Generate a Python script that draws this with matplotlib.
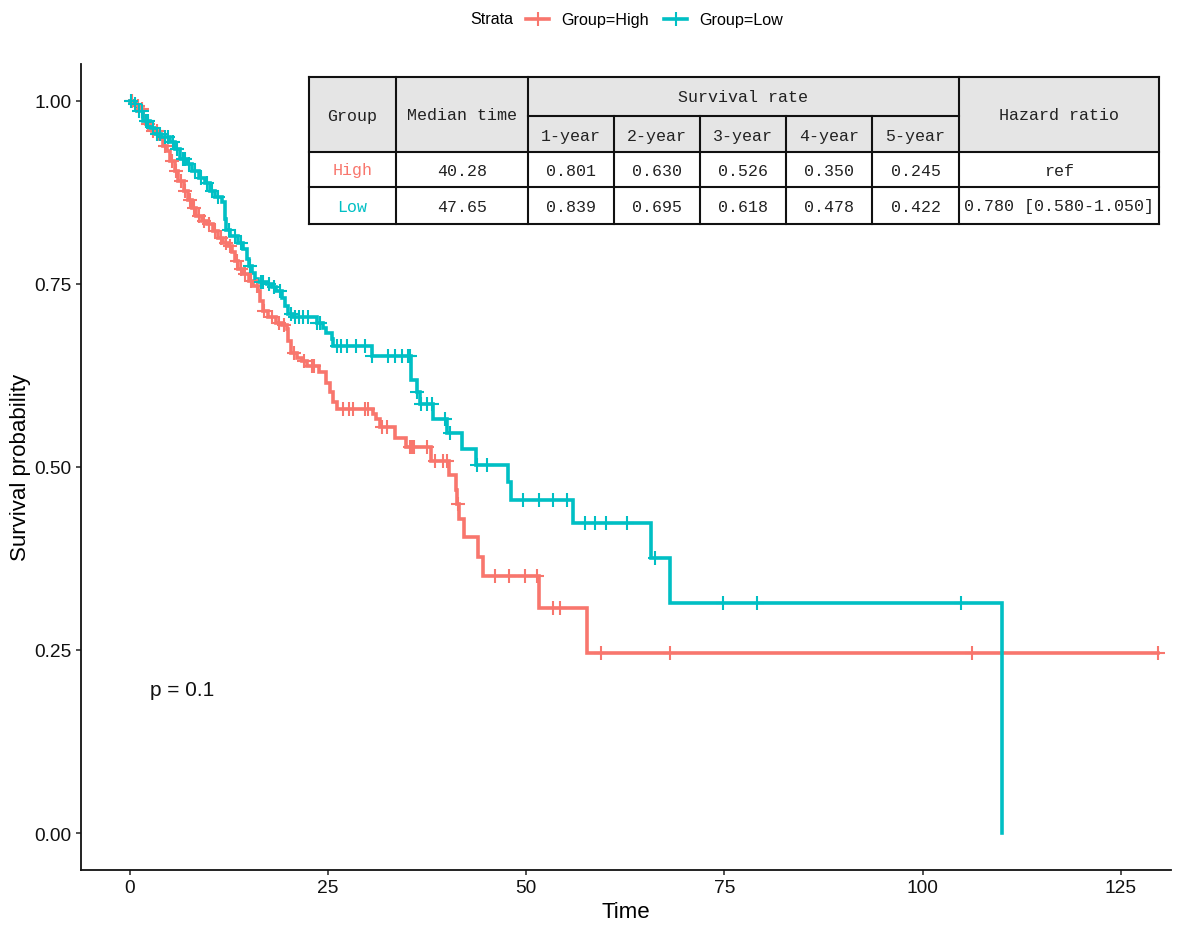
import numpy as np
import matplotlib
matplotlib.use('Agg')
import matplotlib.pyplot as plt
from matplotlib.lines import Line2D
from matplotlib.patches import Rectangle

plt.rcParams['font.family'] = ['Liberation Sans', 'DejaVu Sans']

# ---------------- data ----------------
group_names = ['Group=High', 'Group=Low']
group_colors = ['#F8766D', '#00BFC4']

high_time = [0, 0.5, 0.9, 1.3, 1.7, 2.1, 2.8, 3.6, 4.2, 4.7, 5.1, 5.7, 6.1, 6.8, 7.4, 7.8,
             8.4, 9.1, 9.7, 10.5, 11.2, 11.8, 12.4, 12.9, 13.3, 13.7, 14.3, 15.0, 15.6, 16.2,
             16.4, 16.8, 17.5, 18.5, 19.2, 19.8, 20.0, 20.4, 21.1, 21.7, 22.3, 23.9, 24.8,
             25.3, 25.7, 26.1, 30.7, 31.1, 31.6, 33.5, 34.9, 38.0, 40.3, 41.1, 41.3, 41.5,
             42.2, 43.9, 44.6, 51.6, 57.7]
high_surv = [1.0, 0.997, 0.992, 0.988, 0.977, 0.968, 0.959, 0.947, 0.938, 0.931, 0.918, 0.904,
             0.890, 0.877, 0.865, 0.854, 0.843, 0.836, 0.831, 0.822, 0.813, 0.806, 0.801, 0.793,
             0.781, 0.770, 0.763, 0.754, 0.747, 0.740, 0.727, 0.713, 0.704, 0.697, 0.693, 0.688,
             0.672, 0.656, 0.649, 0.645, 0.638, 0.629, 0.615, 0.602, 0.588, 0.579, 0.572, 0.565,
             0.554, 0.540, 0.527, 0.508, 0.489, 0.469, 0.449, 0.429, 0.404, 0.377, 0.351, 0.307,
             0.246]
high_censor = [0.3, 1.0, 1.5, 2.3, 3.0, 3.4, 4.4, 5.3, 5.9, 6.5, 7.0, 7.6, 8.1, 8.8, 9.4, 10.0,
               10.8, 11.5, 12.1, 12.6, 13.5, 14.0, 14.6, 15.3, 16.0, 17.0, 17.9, 18.8, 19.5,
               20.7, 22.0, 23.0, 23.3, 26.9, 27.6, 28.2, 29.7, 30.1, 31.8, 32.4, 35.3, 35.6,
               35.8, 37.5, 38.5, 39.5, 40.0, 41.4, 46.1, 47.8, 49.8, 51.4, 53.4, 54.3, 59.4,
               68.1, 106.3, 129.7]

low_time = [0, 0.45, 0.9, 1.7, 2.6, 3.2, 4.0, 5.1, 5.7, 6.3, 7.2, 7.8, 8.7, 9.5, 10.1, 10.8,
            11.6, 12.0, 12.2, 12.7, 13.7, 14.3, 14.8, 15.0, 15.4, 15.8, 16.2, 17.3, 17.9, 18.5,
            19.2, 19.6, 20.0, 20.6, 23.6, 24.4, 24.8, 25.5, 25.7, 30.6, 35.5, 36.2, 36.6, 38.3,
            40.0, 41.9, 43.7, 47.7, 48.1, 55.9, 65.7, 68.1, 110.0]
low_surv = [1.0, 0.995, 0.986, 0.972, 0.963, 0.954, 0.950, 0.943, 0.934, 0.920, 0.913, 0.904,
            0.895, 0.888, 0.877, 0.868, 0.861, 0.839, 0.824, 0.815, 0.806, 0.797, 0.784, 0.774,
            0.765, 0.756, 0.752, 0.749, 0.745, 0.740, 0.731, 0.720, 0.708, 0.704, 0.697, 0.690,
            0.683, 0.674, 0.665, 0.652, 0.619, 0.602, 0.586, 0.566, 0.546, 0.525, 0.503, 0.479,
            0.455, 0.423, 0.376, 0.314, 0.0]
low_censor = [0.2, 0.7, 1.2, 1.5, 2.0, 2.3, 2.9, 3.5, 3.8, 4.4, 4.8, 5.4, 6.0, 6.7, 7.0, 7.5,
              8.2, 9.0, 9.8, 10.4, 11.2, 12.5, 13.3, 14.0, 15.2, 16.5, 16.8, 17.6, 18.2, 18.9,
              20.3, 20.8, 21.3, 21.9, 22.5, 23.6, 24.0, 26.1, 26.7, 27.4, 28.6, 29.7, 30.6,
              32.6, 33.5, 34.3, 35.1, 35.4, 36.3, 36.8, 37.5, 38.1, 39.8, 40.4, 43.8, 45.1,
              49.6, 51.6, 53.4, 55.2, 57.4, 58.7, 60.1, 62.7, 66.3, 74.8, 79.1, 104.9]

x_ticks = [0, 25, 50, 75, 100, 125]
y_ticks = [0.0, 0.25, 0.50, 0.75, 1.00]
p_label = 'p = 0.1'
legend_title = 'Strata'

tbl_groups = ['High', 'Low']
tbl_median = ['40.28', '47.65']
tbl_years = ['1-year', '2-year', '3-year', '4-year', '5-year']
tbl_rates = [['0.801', '0.630', '0.526', '0.350', '0.245'],
             ['0.839', '0.695', '0.618', '0.478', '0.422']]
tbl_hr = ['ref', '0.780 [0.580-1.050]']

# ---------------- figure ----------------
W, H = 1185, 928
fig = plt.figure(figsize=(W / 100, H / 100), dpi=100)
ax = fig.add_axes([80.7 / W, 1 - 870.7 / H, (1170.7 - 80.7) / W, (870.7 - 65) / H])

series = [(high_time, high_surv, high_censor), (low_time, low_surv, low_censor)]
LW = 2.6
MS = 9.5
for (t, s, c), col in zip(series, group_colors):
    t = np.asarray(t, float)
    s = np.asarray(s, float)
    c = np.asarray(c, float)
    tp, sp = t, s
    if c.max() > t[-1]:
        tp = np.append(t, c.max())
        sp = np.append(s, s[-1])
    ax.step(tp, sp, where='post', color=col, lw=LW, solid_joinstyle='miter', zorder=3)
    idx = np.searchsorted(t, c, side='right') - 1
    ax.plot(c, s[idx], ls='none', marker='+', markersize=MS, mew=1.5, color=col, zorder=4)

ax.set_xlim(-6.18, 131.3)
ax.set_ylim(-0.05, 1.05)
ax.set_xticks(x_ticks)
ax.set_xticklabels([str(v) for v in x_ticks])
ax.set_yticks(y_ticks)
ax.set_yticklabels([f'{v:.2f}' for v in y_ticks])
for side in ['top', 'right']:
    ax.spines[side].set_visible(False)
for side in ['left', 'bottom']:
    ax.spines[side].set_linewidth(1.3)
    ax.spines[side].set_color('#111111')
ax.tick_params(axis='both', direction='out', length=3.5, width=1.1, color='#222222',
               labelsize=13.8, labelcolor='#111111', pad=3)
ax.set_xlabel('Time', fontsize=16, labelpad=4)
ax.set_ylabel('Survival probability', fontsize=16, labelpad=2.5)

ax.text(2.56, 0.196, p_label, fontsize=15, ha='left', va='center', color='#111111')

# ---------------- legend (top, horizontal) ----------------
ly = 1 - 20 / H
fig.text(470 / W, ly, legend_title, fontsize=11.6, ha='left', va='center')
key_x = [526, 664]
for kx, col, name in zip(key_x, group_colors, group_names):
    fig.add_artist(Line2D([kx / W, (kx + 23) / W], [ly, ly], color=col, lw=LW,
                          transform=fig.transFigure))
    fig.add_artist(Line2D([(kx + 11.5) / W], [ly], color=col, ls='none', marker='+',
                          markersize=MS, mew=1.5, transform=fig.transFigure))
    fig.text((kx + 35) / W, ly, name, fontsize=11.6, ha='left', va='center')

# ---------------- table ----------------
x_edges = [309, 396, 528, 614, 700, 786, 872, 959, 1159]
tax = fig.add_axes([309 / W, 1 - 225 / H, 850 / W, 147 / H])
tax.set_xlim(309, 1159)
tax.set_ylim(225, 78)
tax.axis('off')
tax.add_patch(Rectangle((309, 78), 850, 75, facecolor='#E5E5E5', edgecolor='none'))
tax.add_patch(Rectangle((309, 153), 850, 72, facecolor='white', edgecolor='none'))
blw = 1.5
bc = '#111111'
for y in [78, 153, 188, 225]:
    tax.plot([309, 1159], [y, y], color=bc, lw=blw, clip_on=False, solid_capstyle='projecting')
tax.plot([528, 959], [117, 117], color=bc, lw=blw, clip_on=False)
for x in [309, 396, 528, 959, 1159]:
    tax.plot([x, x], [78, 225], color=bc, lw=blw, clip_on=False, solid_capstyle='projecting')
for x in [614, 700, 786, 872]:
    tax.plot([x, x], [117, 225], color=bc, lw=blw, clip_on=False)

tfont = dict(family=['Liberation Mono', 'DejaVu Sans Mono'], fontsize=12, ha='center',
             va='center', color='#222222')
cx = [(x_edges[i] + x_edges[i + 1]) / 2 for i in range(len(x_edges) - 1)]
tax.text(cx[0], 116, 'Group', **tfont)
tax.text(cx[1], 116, 'Median time', **tfont)
tax.text((528 + 959) / 2, 98, 'Survival rate', **tfont)
for i, yl in enumerate(tbl_years):
    tax.text(cx[2 + i], 136, yl, **tfont)
tax.text(cx[7], 116, 'Hazard ratio', **tfont)
row_y = [171, 207]
for r in range(2):
    d = dict(tfont)
    d['color'] = group_colors[r]
    tax.text(cx[0], row_y[r], tbl_groups[r], **d)
    tax.text(cx[1], row_y[r], tbl_median[r], **tfont)
    for i in range(5):
        tax.text(cx[2 + i], row_y[r], tbl_rates[r][i], **tfont)
    tax.text(cx[7], row_y[r], tbl_hr[r], **tfont)

fig.savefig('out.png', dpi=100)
